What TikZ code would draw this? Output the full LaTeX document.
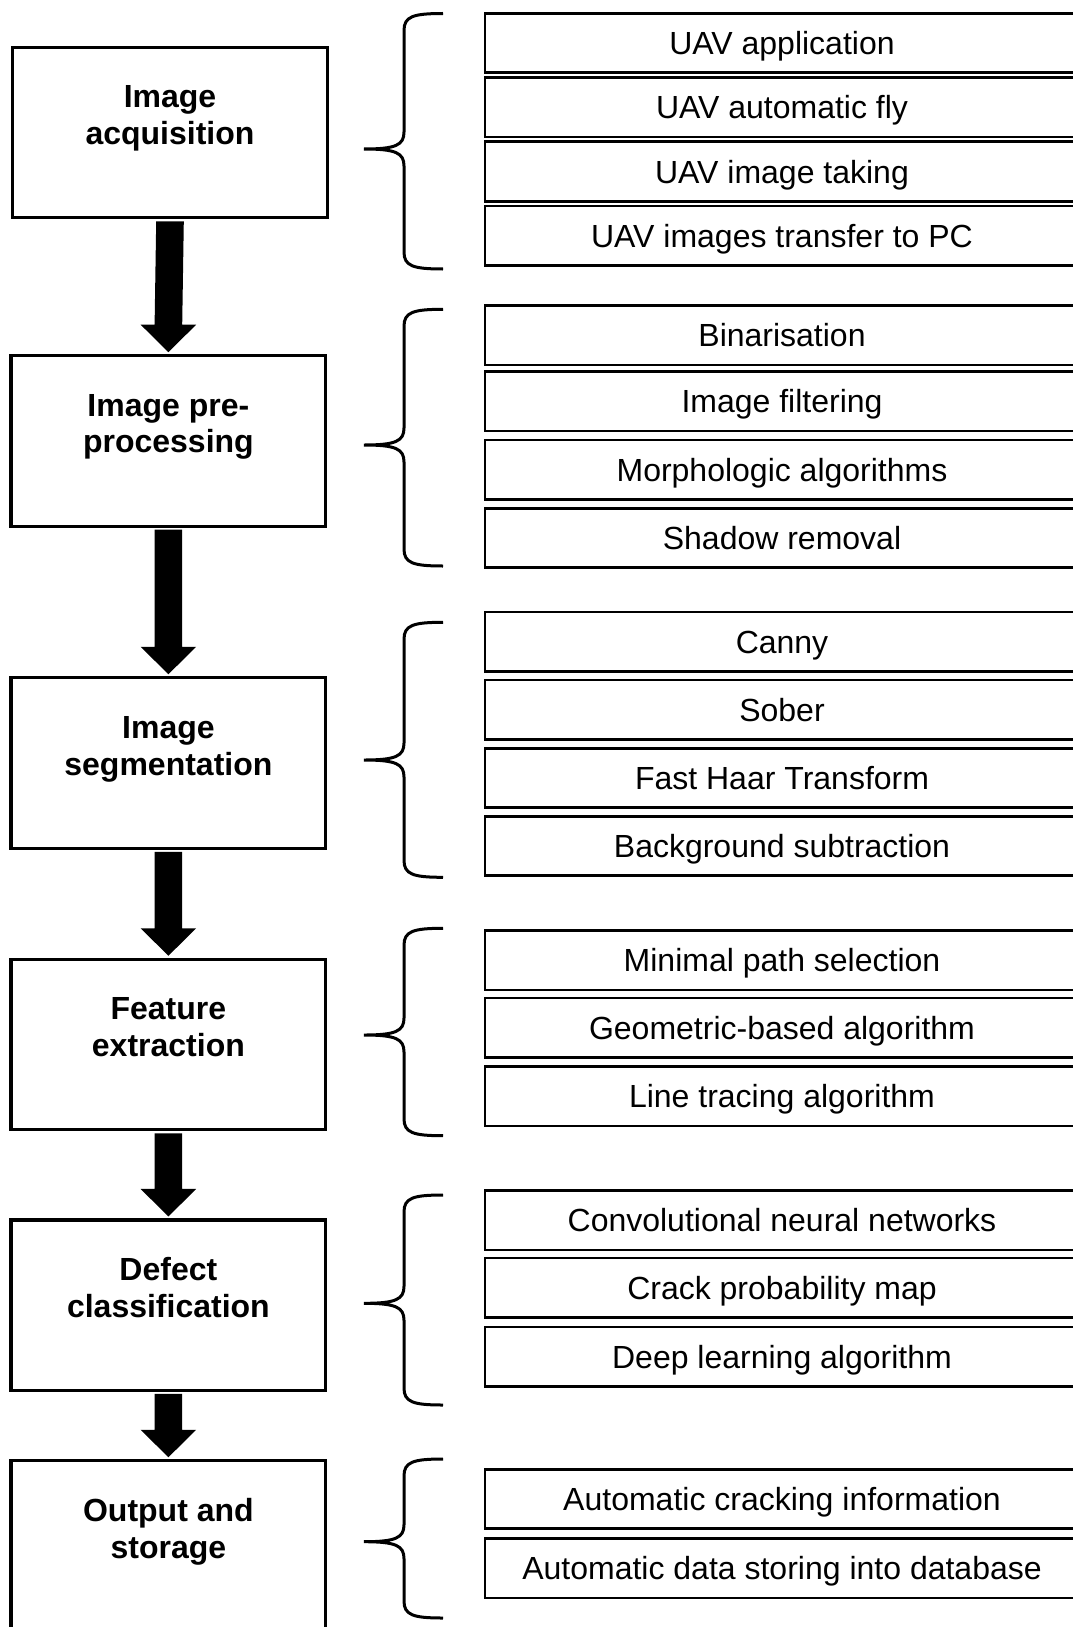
\documentclass[tikz,border=0pt]{standalone}
\usepackage{fontspec}
\setmainfont{Liberation Sans}
\usetikzlibrary{calc}

% block arrow joining two stage boxes
\newcommand\stagearrow[2]{%
  \fill ($(#1.south)+(-13.8,3.5)$) -- ($(#2.north)+(-13.8,-31)$)
     -- ($(#2.north)+(-27.8,-31)$) -- ($(#2.north)+(0,-3.5)$)
     -- ($(#2.north)+(27.8,-31)$) -- ($(#2.north)+(13.8,-31)$)
     -- ($(#1.south)+(13.8,3.5)$) -- cycle;}

% curly brace: top y, tip y, bottom y
\newcommand\groupbrace[3]{%
  \draw[bracestyle] (443,#1) .. controls (413,#1) and (404,{#1+3}) .. (404,{#1+17})
     -- (404,{#2-17}) .. controls (404,{#2-4}) and (396,#2) .. (364,#2)
     .. controls (396,#2) and (404,{#2+4}) .. (404,{#2+17})
     -- (404,{#3-17}) .. controls (404,{#3-3}) and (413,#3) .. (443,#3);}

\begin{document}
\begin{tikzpicture}[x=1pt,y=-1pt,
  stage/.style={draw, line width=3.3pt, outer sep=0pt, inner sep=0pt,
    minimum width=314.7pt, minimum height=170.5pt},
  stagetext/.style={anchor=base, inner sep=0pt,
    font=\fontsize{32}{36.7}\selectfont\bfseries},
  item/.style={draw, line width=2.7pt, outer sep=0pt, inner sep=0pt,
    minimum width=594pt, minimum height=59.3pt,
    text height=23pt, text depth=0pt,
    font=\fontsize{32}{38}\selectfont},
  bracestyle/.style={line width=3pt, line cap=butt}]

\fill[white] (0,0) rectangle (1072,1627);
\useasboundingbox (0,0) rectangle (1072,1627);

% processing stages
\node[stage] (s1) at (170,132.5) {};
\node[stage] (s2) at (168.4,440.9) {};
\node[stage] (s3) at (168.4,763) {};
\node[stage] (s4) at (168.4,1044.5) {};
\node[stage] (s5) at (168.4,1305.2) {};
\node[stage] (s6) at (168.4,1546) {};

\renewcommand\arraystretch{1}
\node[stagetext] (l1) at ($(s1.north)+(0,60.6)$) {\begin{tabular}[t]{@{}c@{}}Image\\acquisition\end{tabular}};
\node[stagetext] (l2) at ($(s2.north)+(0,60.6)$) {\begin{tabular}[t]{@{}c@{}}Image pre-\\processing\end{tabular}};
\node[stagetext] (l3) at ($(s3.north)+(0,60.6)$) {\begin{tabular}[t]{@{}c@{}}Image\\segmentation\end{tabular}};
\node[stagetext] (l4) at ($(s4.north)+(0,60.6)$) {\begin{tabular}[t]{@{}c@{}}Feature\\extraction\end{tabular}};
\node[stagetext] (l5) at ($(s5.north)+(0,60.6)$) {\begin{tabular}[t]{@{}c@{}}Defect\\classification\end{tabular}};
\node[stagetext] (l6) at ($(s6.north)+(0,60.6)$) {\begin{tabular}[t]{@{}c@{}}Output and\\storage\end{tabular}};

\stagearrow{s1}{s2}
\stagearrow{s2}{s3}
\stagearrow{s3}{s4}
\stagearrow{s4}{s5}
\stagearrow{s5}{s6}

% methods of each stage
\node[item] (a1) at (782,43) {UAV application};
\node[item] (a2) at (782,107.25) {UAV automatic fly};
\node[item] (a3) at (782,171.5) {UAV image taking};
\node[item] (a4) at (782,235.75) {UAV images transfer to PC};

\node[item] (b1) at (782,335.35) {Binarisation};
\node[item] (b2) at (782,401.35) {Image filtering};
\node[item] (b3) at (782,469.65) {Morphologic algorithms};
\node[item] (b4) at (782,537.8) {Shadow removal};

\node[item] (c1) at (782,641.65) {Canny};
\node[item] (c2) at (782,709.5) {Sober};
\node[item] (c3) at (782,778) {Fast Haar Transform};
\node[item] (c4) at (782,845.85) {Background subtraction};

\node[item] (d1) at (782,960.35) {Minimal path selection};
\node[item] (d2) at (782,1027.5) {Geometric-based algorithm};
\node[item] (d3) at (782,1096.35) {Line tracing algorithm};

\node[item] (e1) at (782,1220.35) {Convolutional neural networks};
\node[item] (e2) at (782,1287.5) {Crack probability map};
\node[item] (e3) at (782,1356.7) {Deep learning algorithm};

\node[item] (f1) at (782,1499) {Automatic cracking information};
\node[item] (f2) at (782,1568.3) {Automatic data storing into database};

% braces grouping the methods
\groupbrace{13.5}{149}{269}
\groupbrace{309.3}{445}{566}
\groupbrace{622.3}{760}{877.3}
\groupbrace{928.3}{1035}{1135.7}
\groupbrace{1195}{1303.3}{1405}
\groupbrace{1459}{1541.7}{1618}

\end{tikzpicture}
\end{document}
